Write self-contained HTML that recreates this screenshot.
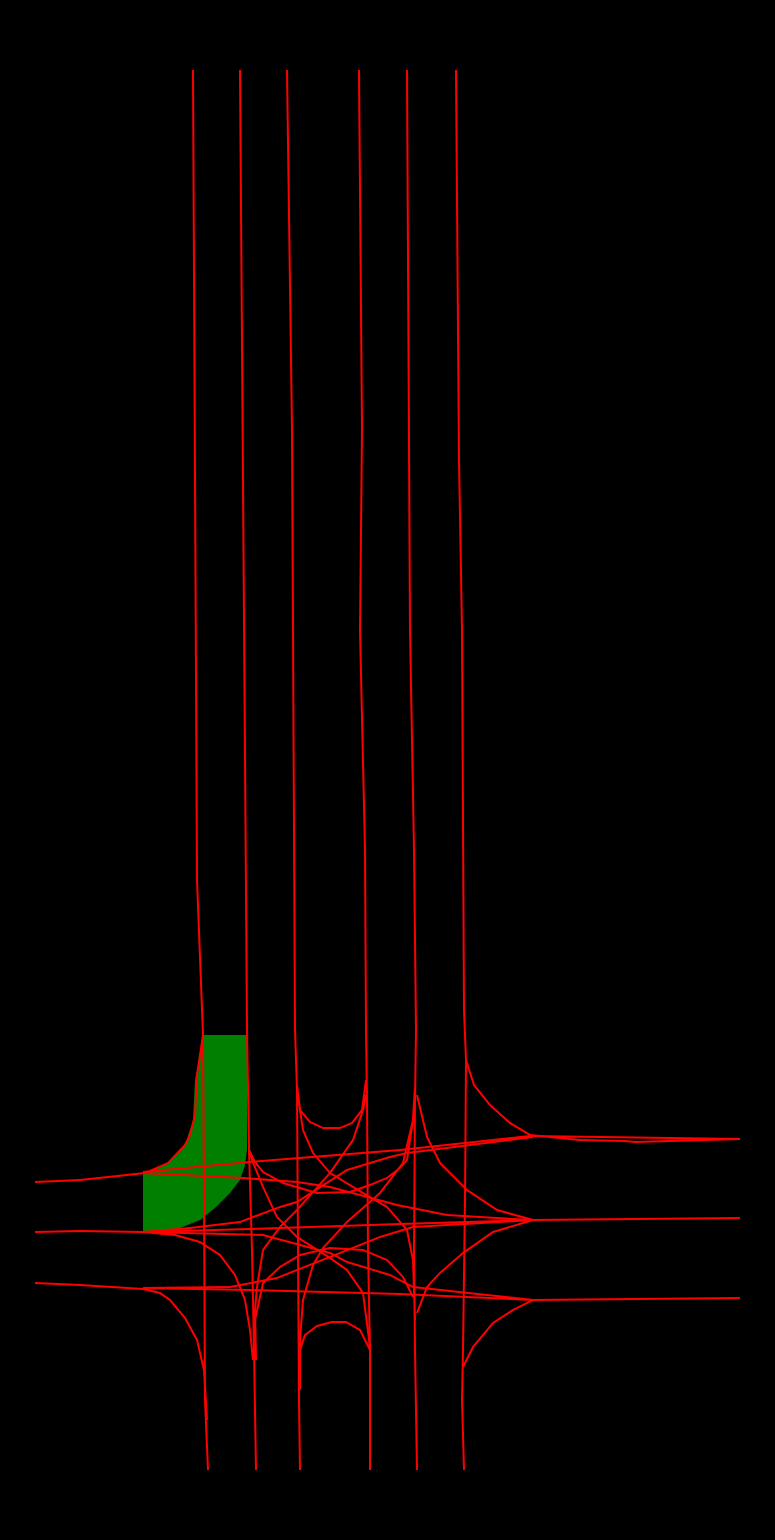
<!DOCTYPE html>
<html><head><meta charset="utf-8"><style>html,body{margin:0;padding:0;background:#000;}svg{display:block}</style></head>
<body>
<svg width="775" height="1540" viewBox="0 0 775 1540">
<rect width="775" height="1540" fill="#000"/>
<polygon fill="#007f00" points="203,1035 247,1035 247,1150 245,1165 240,1180 230,1193 215,1208 200,1220 180,1228 143,1232 143,1173 168,1163 185,1145 193,1120 195,1080"/>
<g id="lanes" fill="none" stroke="#ff0000" stroke-width="2" stroke-linejoin="round"></g>
</svg>
<script>
const lanes = [
["lane-v1","193,70 197,880 203,1035 204,1200 205,1400 208,1470"],
["lane-v1-turn","203,1035 197,1075 195,1115 190,1135 185,1145 168,1163 145,1173 80,1180 35,1182"],
["lane-v2","240,70 247,1030 249,1150 252,1250 254,1350 256,1470"],
["lane-v3","287,70 292,430 295,1030 297,1090 298,1250 299,1400 300,1470"],
["lane-v4","359,70 362,430 360,630 365,850 366,1030 367,1100 368,1250 370,1350 370,1470"],
["lane-v5","407,70 410,630 414,850 416,1030 415,1100 414,1250 415,1350 417,1470"],
["lane-v6","456,70 459,460 462,630 464,1010 466,1060 465,1200 463,1350 462,1400 464,1470"],
["lane-v6-turn","466,1060 474,1085 490,1105 510,1123 530,1135 580,1140 625,1141 635,1142 740,1139"],
["lane-h-top-right","530,1136 740,1139"],
["lane-h-mid-right","533,1220 740,1218"],
["lane-h-bot-right","533,1300 740,1298"],
["lane-h-left-mid","35,1232 80,1231 143,1232"],
["lane-h-left-bot","35,1283 80,1285 143,1289"],
["cross-a","143,1172 250,1162 400,1150 530,1136"],
["cross-b","143,1173 243,1178 297,1182 330,1187 397,1205 447,1215 513,1219 533,1220"],
["cross-c","143,1232 250,1229 400,1224 533,1220"],
["cross-d","143,1232 190,1228 240,1222 280,1207 297,1202 347,1170 390,1157 407,1153 533,1137"],
["cross-e","143,1232 263,1235 330,1253 347,1262 390,1275 413,1287 533,1300"],
["cross-f","143,1288 250,1290 400,1294 533,1300"],
["cross-g","143,1288 230,1287 277,1278 297,1270 330,1257 380,1237 413,1227 533,1220"],
["turn-left-bot","143,1289 160,1293 170,1300 185,1318 197,1340 204,1370 207,1420"],
["turn-left-mid","143,1232 175,1235 200,1242 220,1255 235,1275 245,1300 250,1330 253,1360"],
["turn-v2-a","249,1150 252,1160 263,1187 277,1217 297,1237 330,1258 347,1270 363,1293 370,1347"],
["turn-v2-b","249,1150 255,1162 263,1172 283,1183 317,1193 350,1192 370,1185 387,1178 400,1168 407,1160 413,1120 415,1087"],
["uturn-top","297,1085 300,1110 310,1122 323,1128 340,1128 352,1123 362,1110 366,1080"],
["uturn-bot","300,1350 305,1335 317,1326 332,1322 346,1322 360,1330 370,1350"],
["turn-v3-a","297,1090 300,1110 303,1130 313,1153 330,1173 363,1193 387,1207 407,1230 413,1260 415,1320"],
["turn-v4-a","366,1095 363,1110 353,1140 330,1173 297,1210 280,1227 263,1250 257,1287 255,1310 256,1360"],
["turn-v5-a","415,1090 413,1120 403,1163 380,1193 347,1222 323,1248 313,1265 303,1300 300,1340 300,1390"],
["turn-v5-b","417,1095 427,1137 440,1163 467,1190 497,1210 533,1220"],
["turn-v5-d","417,1313 427,1287 440,1273 463,1253 493,1232 533,1220"],
["turn-v6-bot","463,1367 473,1347 493,1323 513,1310 533,1300"],
["turn-bot-u","255,1320 263,1283 280,1267 300,1255 330,1248 363,1250 387,1260 403,1277 413,1297"]
];
const g = document.getElementById('lanes');
lanes.forEach(([name, pts]) => {
  const p = document.createElementNS('http://www.w3.org/2000/svg','polyline');
  p.setAttribute('points', pts);
  
  
  g.appendChild(p);
});
</script>
</body></html>
